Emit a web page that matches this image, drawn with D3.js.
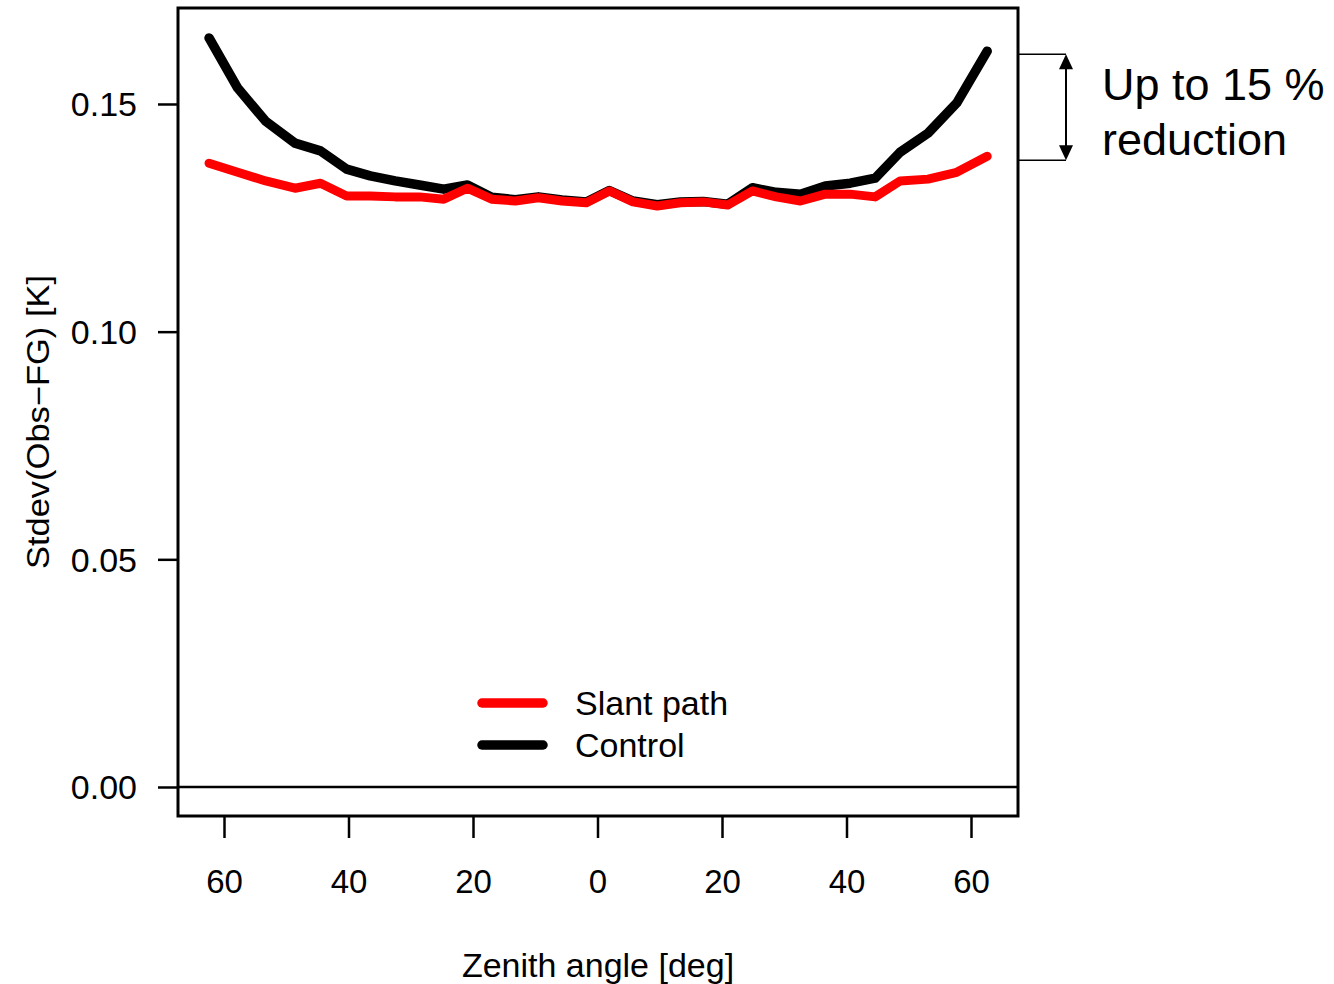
<!DOCTYPE html>
<html>
<head>
<meta charset="utf-8">
<script src="https://cdn.jsdelivr.net/npm/d3@7"></script>
<style>
  html, body { margin: 0; padding: 0; background: #fff; }
  svg { display: block; }
  text { font-family: "Liberation Sans", Arial, Helvetica, sans-serif; fill: #000; }
</style>
</head>
<body>
<svg id="chart" width="1334" height="984"></svg>
<script>
// Zenith angle (signed; left side shown as positive labels)
const angles = [-62.4,-57.8,-53.3,-48.6,-44.5,-40.3,-36.5,-32.5,-28.6,-24.7,-20.9,-17.0,-13.2,-9.5,-5.7,-1.8,
                 1.9,5.7,9.6,13.3,17.0,20.9,24.9,28.7,32.6,36.6,40.6,44.6,48.6,53.1,57.7,62.6];
const slantPath = [0.1370,0.1350,0.1331,0.1315,0.1326,0.1298,0.1298,0.1296,0.1296,0.1291,0.1315,0.1291,0.1287,0.1294,0.1287,0.1283,
                   0.1309,0.1285,0.1276,0.1283,0.1285,0.1278,0.1309,0.1296,0.1287,0.1302,0.1302,0.1296,0.1331,0.1335,0.1350,0.1385];
const control   = [0.1645,0.1535,0.1462,0.1414,0.1397,0.1357,0.1342,0.1331,0.1322,0.1313,0.1322,0.1295,0.1290,0.1296,0.1289,0.1285,
                   0.1310,0.1287,0.1279,0.1285,0.1286,0.1280,0.1316,0.1306,0.1302,0.1320,0.1326,0.1337,0.1394,0.1436,0.1502,0.1616];
const xTicks = [-60,-40,-20,0,20,40,60];
const yTicks = [0.00,0.05,0.10,0.15];
const seriesNames = ["Slant path","Control"];
const seriesColors = ["#ff0000","#000000"];

const svg = d3.select("#chart");
const L = 178, R = 1018, T = 8, B = 816;

const x = d3.scaleLinear().domain([-67.39, 67.55]).range([L, R]);
const y = d3.scaleLinear().domain([-0.00637, 0.17108]).range([B, T]);

// zero line
svg.append("line")
  .attr("x1", L).attr("x2", R)
  .attr("y1", y(0)).attr("y2", y(0))
  .attr("stroke", "#000").attr("stroke-width", 2.5);

const line = d3.line().x((d, i) => x(angles[i])).y(d => y(d));

// Control first (under), then Slant path
svg.append("path").datum(control)
  .attr("d", line).attr("fill", "none")
  .attr("stroke", seriesColors[1]).attr("stroke-width", 9.5)
  .attr("stroke-linecap", "round").attr("stroke-linejoin", "round");
svg.append("path").datum(slantPath)
  .attr("d", line).attr("fill", "none")
  .attr("stroke", seriesColors[0]).attr("stroke-width", 9)
  .attr("stroke-linecap", "round").attr("stroke-linejoin", "round");

// Box
svg.append("rect")
  .attr("x", L).attr("y", T).attr("width", R - L).attr("height", B - T)
  .attr("fill", "none").attr("stroke", "#000").attr("stroke-width", 3);

// Y axis
const yAxis = d3.axisLeft(y).tickValues(yTicks).tickFormat(d3.format(".2f"))
  .tickSize(20).tickPadding(20);
const gy = svg.append("g").attr("transform", `translate(${L},0)`).call(yAxis);
gy.select(".domain").remove();
gy.selectAll(".tick line").attr("stroke", "#000").attr("stroke-width", 2.5);
gy.selectAll(".tick text")
  .attr("font-size", 34).attr("font-family", '"Liberation Sans", Arial, sans-serif')
  .attr("fill", "#000").attr("x", -41).attr("dy", "0.35em");

// X axis (separated from the box, R style)
const xAxis = d3.axisBottom(x).tickValues(xTicks).tickFormat(d => Math.abs(d))
  .tickSize(22).tickPadding(30);
const gx = svg.append("g").attr("transform", `translate(0,${B})`).call(xAxis);
gx.select(".domain").remove();
gx.selectAll(".tick line").attr("stroke", "#000").attr("stroke-width", 2.5);
gx.selectAll(".tick text")
  .attr("font-size", 33).attr("font-family", '"Liberation Sans", Arial, sans-serif')
  .attr("fill", "#000").attr("y", 0).attr("dy", 0)
  .attr("transform", "translate(0,77)");

// Axis titles
svg.append("text")
  .attr("x", (L + R) / 2 - 0).attr("y", 977)
  .attr("text-anchor", "middle").attr("font-size", 34)
  .text("Zenith angle [deg]");
svg.append("text")
  .attr("transform", "translate(49,422) rotate(-90) scale(1,0.9)")
  .attr("text-anchor", "middle").attr("font-size", 34.5)
  .text("Stdev(Obs\u2212FG) [K]");

// Legend
const legY = [703, 745];
const legTextY = [715, 757];
seriesNames.forEach((name, i) => {
  svg.append("line")
    .attr("x1", 482).attr("x2", 543)
    .attr("y1", legY[i]).attr("y2", legY[i])
    .attr("stroke", seriesColors[i]).attr("stroke-width", 9.5)
    .attr("stroke-linecap", "round");
  svg.append("text")
    .attr("x", 575).attr("y", legTextY[i])
    .attr("font-size", 34).text(name);
});

// Annotation: reduction arrow
const topVal = control[control.length - 1];
const botVal = slantPath[slantPath.length - 1];
const yTop = y(topVal) + 3, yBot = y(botVal) + 4;
svg.append("line").attr("x1", R).attr("x2", 1066).attr("y1", yTop).attr("y2", yTop)
  .attr("stroke", "#000").attr("stroke-width", 1.5);
svg.append("line").attr("x1", R).attr("x2", 1066).attr("y1", yBot).attr("y2", yBot)
  .attr("stroke", "#000").attr("stroke-width", 1.5);
svg.append("line").attr("x1", 1066).attr("x2", 1066).attr("y1", yTop + 12).attr("y2", yBot - 12)
  .attr("stroke", "#000").attr("stroke-width", 2);
svg.append("path")
  .attr("d", `M1066,${yTop} L1059,${yTop + 15} L1073,${yTop + 15} Z`).attr("fill", "#000");
svg.append("path")
  .attr("d", `M1066,${yBot} L1059,${yBot - 15} L1073,${yBot - 15} Z`).attr("fill", "#000");

svg.append("text").attr("x", 1102).attr("y", 100).attr("font-size", 45).text("Up to 15 %");
svg.append("text").attr("x", 1102).attr("y", 155).attr("font-size", 45).text("reduction");
</script>
</body>
</html>
